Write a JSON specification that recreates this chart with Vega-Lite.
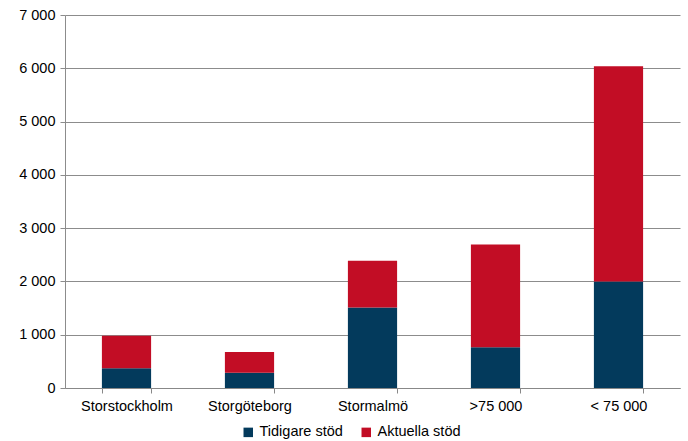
{
  "$schema": "https://vega.github.io/schema/vega-lite/v6.json",
  "width": 615,
  "height": 373,
  "autosize": {"type": "none"},
  "padding": {"left": 65, "top": 15, "right": 8, "bottom": 53},
  "background": "white",
  "data": {
    "values": [
      {"region": "Storstockholm", "typ": "Tidigare stöd", "antal": 370},
      {"region": "Storstockholm", "typ": "Aktuella stöd", "antal": 610},
      {"region": "Storgöteborg", "typ": "Tidigare stöd", "antal": 285},
      {"region": "Storgöteborg", "typ": "Aktuella stöd", "antal": 390},
      {"region": "Stormalmö", "typ": "Tidigare stöd", "antal": 1510},
      {"region": "Stormalmö", "typ": "Aktuella stöd", "antal": 880},
      {"region": ">75 000", "typ": "Tidigare stöd", "antal": 765},
      {"region": ">75 000", "typ": "Aktuella stöd", "antal": 1930},
      {"region": "< 75 000", "typ": "Tidigare stöd", "antal": 2000},
      {"region": "< 75 000", "typ": "Aktuella stöd", "antal": 4040}
    ]
  },
  "mark": {"type": "bar"},
  "encoding": {
    "x": {
      "field": "region",
      "type": "nominal",
      "sort": null,
      "title": null,
      "scale": {"paddingInner": 0.6, "paddingOuter": 0.3},
      "axis": {
        "labelAngle": 0,
        "tickBand": "extent",
        "tickSize": 5,
        "tickColor": "#888888",
        "domainColor": "#888888",
        "labelFont": "Liberation Sans",
        "labelFontSize": 14.5,
        "labelColor": "#000000",
        "labelPadding": 6
      }
    },
    "y": {
      "field": "antal",
      "type": "quantitative",
      "stack": "zero",
      "title": null,
      "scale": {"domain": [0, 7000], "nice": false},
      "axis": {
        "values": [0, 1000, 2000, 3000, 4000, 5000, 6000, 7000],
        "labelExpr": "replace(format(datum.value, ','), ',', ' ')",
        "grid": true,
        "gridColor": "#8c8c8c",
        "tickColor": "#8c8c8c",
        "domainColor": "#8c8c8c",
        "tickSize": 5,
        "labelFont": "Liberation Sans",
        "labelFontSize": 14.5,
        "labelColor": "#000000",
        "labelPadding": 5
      }
    },
    "color": {
      "field": "typ",
      "type": "nominal",
      "sort": ["Tidigare stöd", "Aktuella stöd"],
      "scale": {"domain": ["Tidigare stöd", "Aktuella stöd"], "range": ["#033a5c", "#c20d25"]},
      "legend": {
        "title": null,
        "orient": "none",
        "direction": "horizontal",
        "legendX": 176,
        "legendY": 410,
        "symbolType": "square",
        "symbolSize": 90,
        "symbolStrokeWidth": 0,
        "labelFont": "Liberation Sans",
        "labelFontSize": 14.5,
        "labelColor": "#000000",
        "labelOffset": 4,
        "columnPadding": 16
      }
    },
    "order": {"field": "typ", "sort": "descending"}
  },
  "config": {"view": {"stroke": null}}
}
